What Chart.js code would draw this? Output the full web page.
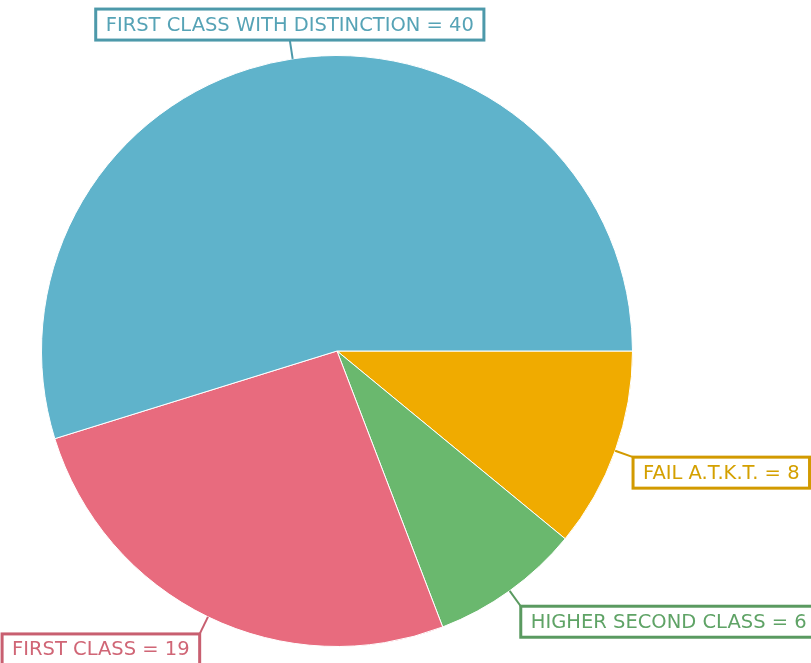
<!DOCTYPE html>
<html lang="en">
<head>
  <meta charset="UTF-8">
  <title>Result pie</title>
  <script src="https://cdn.jsdelivr.net/npm/chart.js"></script>
  <style>
    body { margin: 0; padding: 0; background: #fff; }
    canvas { display: block; }
  </style>
</head>
<body>
  <canvas id="resultPie" width="811" height="663"></canvas>
  <script>
    const labels = ["FAIL A.T.K.T.", "HIGHER SECOND CLASS", "FIRST CLASS", "FIRST CLASS WITH DISTINCTION"];
    const values = [8, 6, 19, 40];
    const fillColors = ["#f0ab00", "#6ab86e", "#e86b7e", "#5fb3cb"];
    const boxColors = ["#d29a00", "#5a9a60", "#c85f70", "#4d99aa"];
    const textColors = ["#d4a000", "#5fa366", "#d06676", "#56a3b6"];

    // boxed callout labels with short leader lines
    const calloutLabels = {
      id: 'calloutLabels',
      afterDatasetsDraw(chart) {
        const ctx = chart.ctx;
        const meta = chart.getDatasetMeta(0);
        ctx.save();
        ctx.font = "19.5px 'DejaVu Sans', sans-serif";
        ctx.textBaseline = 'middle';
        meta.data.forEach((arc, i) => {
          const mid = (arc.startAngle + arc.endAngle) / 2;
          const cos = Math.cos(mid), sin = Math.sin(mid);
          const sx = arc.x + cos * arc.outerRadius;
          const sy = arc.y + sin * arc.outerRadius;
          const len = 19;
          const ex = sx + cos * len;
          const ey = sy + sin * len;

          ctx.strokeStyle = boxColors[i];
          ctx.lineWidth = 2;
          ctx.beginPath();
          ctx.moveTo(sx, sy);
          ctx.lineTo(ex, ey);
          ctx.stroke();

          const text = labels[i] + ' = ' + values[i];
          const w = ctx.measureText(text).width + 20;
          const h = 31;
          let bx;
          if (cos > 0.3) bx = ex;
          else if (cos < -0.3) bx = ex - w;
          else bx = ex - w / 2;
          const by = sin > 0 ? ey : ey - h;

          ctx.fillStyle = '#fff';
          ctx.fillRect(bx, by, w, h);
          ctx.lineWidth = 3;
          ctx.strokeRect(bx, by, w, h);
          ctx.fillStyle = textColors[i];
          ctx.textAlign = 'left';
          ctx.fillText(text, bx + 10, by + h / 2 + 1);
        });
        ctx.restore();
      }
    };

    new Chart(document.getElementById('resultPie'), {
      type: 'pie',
      data: {
        labels: labels,
        datasets: [{
          data: values,
          backgroundColor: fillColors,
          borderColor: '#fff',
          borderWidth: 1
        }]
      },
      options: {
        responsive: false,
        animation: false,
        rotation: 90,
        layout: { padding: { left: 41, right: 178, top: 55, bottom: 16 } },
        plugins: {
          legend: { display: false },
          tooltip: { enabled: false }
        }
      },
      plugins: [calloutLabels]
    });
  </script>
</body>
</html>
